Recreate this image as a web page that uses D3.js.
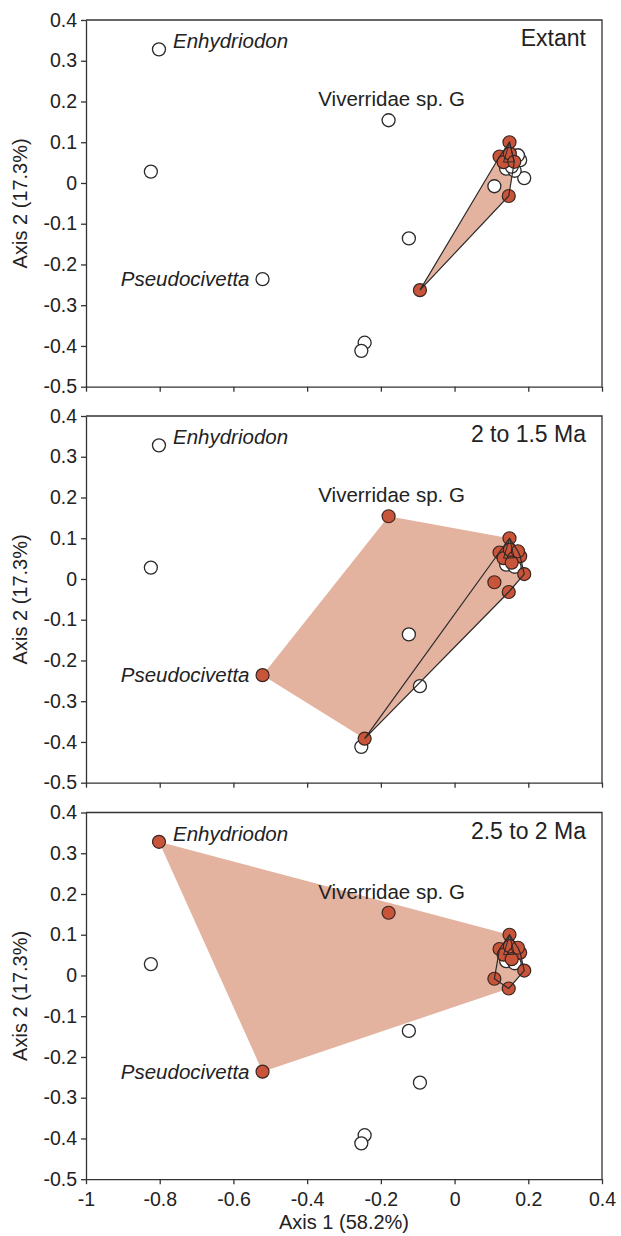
<!DOCTYPE html>
<html><head><meta charset="utf-8">
<script src="https://cdn.jsdelivr.net/npm/d3@7"></script>
<style>
body{margin:0;background:#fff}
text{font-family:"Liberation Sans",Arial,sans-serif;fill:#222}
</style>
</head><body>
<svg id="c" width="621" height="1236"></svg>
<script>
// Specimen scores on PCA axes
const axis1 = [-0.802,-0.824,-0.521,-0.179,-0.124,-0.094,-0.244,-0.253, 0.108, 0.149, 0.147, 0.122, 0.133, 0.150, 0.162, 0.178, 0.189, 0.140, 0.163, 0.172, 0.155];
const axis2 = [ 0.328, 0.028,-0.236, 0.154,-0.136,-0.263,-0.392,-0.412,-0.008, 0.100,-0.032, 0.065, 0.051, 0.072, 0.052, 0.056, 0.012, 0.035, 0.030, 0.068, 0.040];
const taxonLabels = ["Enhydriodon","","Pseudocivetta","Viverridae sp. G","","","","","","","","","","","","","","","","",""];
const labelItalic = [1,0,1,0,0,0,0,0,0,0,0,0,0,0,0,0,0,0,0,0,0];
// 1 = present in the time bin (filled), 0 = not present (open)
const inExtant = [0,0,0,0,0,1,0,0,0,1,1,1,1,1,1,0,0,0,0,0,0];
const in2to15  = [0,0,1,1,0,0,1,0,1,1,1,1,1,1,1,1,1,0,0,1,1];
const in25to2  = [1,0,1,1,0,0,0,0,1,1,1,1,1,1,1,1,1,0,0,1,1];
const subgroupA = [0,0,0,0,0,0,0,0,0,1,0,0,1,0,1,0,0,0,0,0,0];
const panelTitles = ["Extant","2 to 1.5 Ma","2.5 to 2 Ma"];
const xTicks = [-1,-0.8,-0.6,-0.4,-0.2,0,0.2,0.4];
const yTicks = [-0.5,-0.4,-0.3,-0.2,-0.1,0,0.1,0.2,0.3,0.4];
const xTitle = "Axis 1 (58.2%)";
const yTitle = "Axis 2 (17.3%)";

const bins = [inExtant, in2to15, in25to2];
const svg = d3.select("#c");
const tops = [20, 416, 812.5], ph = 366.7;
const x = d3.scaleLinear().domain([-1,0.4]).range([86,602]);
const fmt = d => String(+d.toFixed(1));
const RED = "#c8553a", HULL = "#e4b39f", INK = "#2a2a2a";
const idx = d3.range(axis1.length);

bins.forEach((flags, p) => {
  const top = tops[p];
  const y = d3.scaleLinear().domain([-0.5,0.4]).range([top+ph, top]);
  const g = svg.append("g");
  const pt = k => [x(axis1[k]), y(axis2[k])];
  const reds = idx.filter(k => flags[k]);
  const whites = idx.filter(k => !flags[k]);
  const line = d3.line();

  // filled convex hull of the bin
  const hull = d3.polygonHull(reds.map(pt));
  g.append("path").attr("d", line(hull) + "Z").attr("fill", HULL);

  // frame
  g.append("path").attr("d", `M${x(-1)},${top}H${x(0.4)}V${top+ph}`)
    .attr("fill","none").attr("stroke","#333").attr("stroke-width",1.3);

  // axes
  const ax = g.append("g").attr("transform", `translate(0,${top+ph})`)
    .call(d3.axisBottom(x).tickValues(xTicks).tickSize(5).tickSizeOuter(0)
      .tickFormat(p === 2 ? fmt : () => ""));
  const ay = g.append("g").attr("transform", `translate(${x(-1)},0)`)
    .call(d3.axisLeft(y).tickValues(yTicks).tickSize(5).tickSizeOuter(0).tickFormat(fmt));
  [ax, ay].forEach(a => {
    a.selectAll("path,line").attr("stroke","#333").attr("stroke-width",1.3);
    a.selectAll("text").attr("font-size", 19.5).attr("fill","#222")
      .style("font-family",'"Liberation Sans",Arial,sans-serif');
  });
  ax.selectAll("text").attr("dy","0.95em");
  ay.selectAll("text").attr("x", -9);

  // points
  g.selectAll(null).data(whites).join("circle")
    .attr("cx", k => x(axis1[k])).attr("cy", k => y(axis2[k])).attr("r", 6.5)
    .attr("fill","#fff").attr("stroke",INK).attr("stroke-width",1.3);
  g.selectAll(null).data(reds).join("circle")
    .attr("cx", k => x(axis1[k])).attr("cy", k => y(axis2[k])).attr("r", 6.5)
    .attr("fill",RED).attr("stroke","#3a2520").attr("stroke-width",1.2);

  // outline hulls of the core group
  const core = p > 0 ? reds.filter(k => !taxonLabels[k]) : reds;
  const h2 = d3.polygonHull(core.map(pt));
  g.append("path").attr("d", line(h2) + "Z").attr("fill","none")
    .attr("stroke",INK).attr("stroke-width",1.2);
  const sub = d3.polygonHull(reds.filter(k => subgroupA[k]).map(pt));
  if (sub) g.append("path").attr("d", line(sub) + "Z").attr("fill","none")
      .attr("stroke",INK).attr("stroke-width",1);

  // taxon labels
  idx.filter(k => taxonLabels[k]).forEach(k => {
    const [px, py] = pt(k);
    const t = g.append("text").text(taxonLabels[k]).attr("font-size", 20.5)
      .attr("font-style", labelItalic[k] ? "italic" : "normal");
    if (taxonLabels[k] === "Enhydriodon") t.attr("x", px+14).attr("y", py-1);
    else if (taxonLabels[k] === "Pseudocivetta") t.attr("x", px-13).attr("y", py+7).attr("text-anchor","end");
    else t.attr("x", px+3).attr("y", py-14).attr("text-anchor","middle");
  });

  // panel title
  g.append("text").text(panelTitles[p]).attr("x", 586).attr("y", top+26)
    .attr("text-anchor","end").attr("font-size", 23);

  // y title
  g.append("text").text(yTitle).attr("font-size", 20).attr("text-anchor","middle")
    .attr("transform", `translate(27,${top+ph/2}) rotate(-90)`);
});

svg.append("text").text(xTitle).attr("x", 344).attr("y", 1229)
  .attr("text-anchor","middle").attr("font-size", 20);
</script>
</body></html>
